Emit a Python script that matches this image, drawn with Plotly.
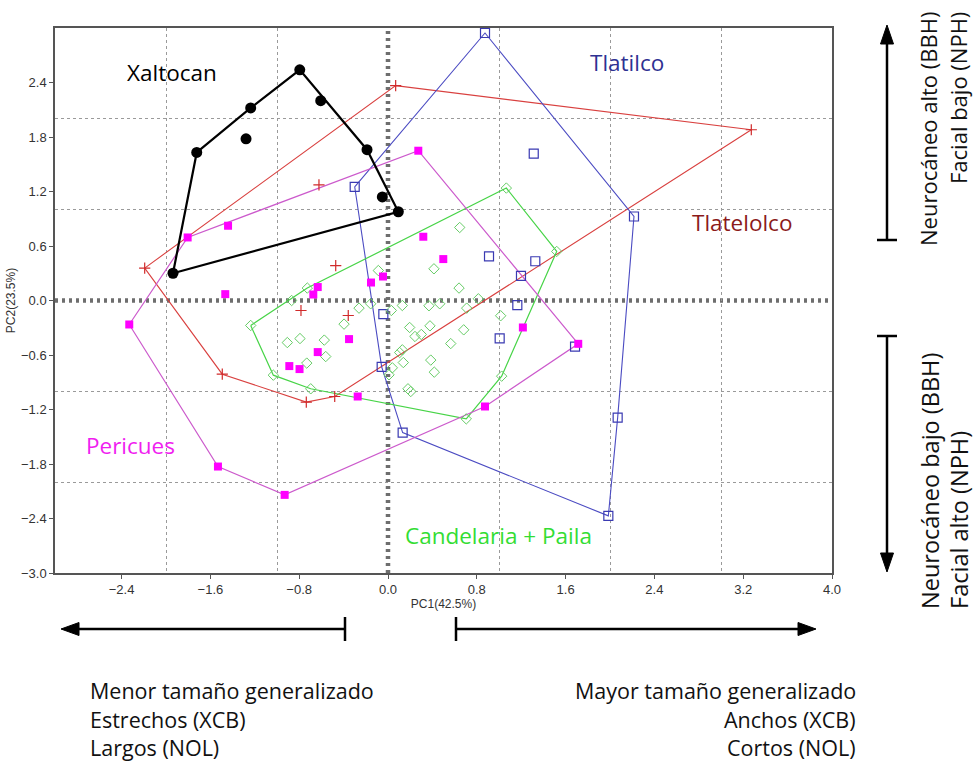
import plotly.graph_objects as go

# ---- PCA scores per population (PC1, PC2) ----
xaltocan_pc1 = [-0.795, -0.606, -1.237, -1.279, -1.723, -0.189, -0.051, 0.093, -1.937]
xaltocan_pc2 = [2.540, 2.200, 2.120, 1.780, 1.630, 1.660, 1.140, 0.977, 0.300]

tlatilco_pc1 = [0.874, 1.313, 2.216, 0.910, 1.327, 1.198, 1.165, -0.300, -0.042,
                1.006, -0.057, 1.685, 2.069, 1.985, 0.132]
tlatilco_pc2 = [2.945, 1.616, 0.925, 0.485, 0.432, 0.272, -0.051, 1.252, -0.150,
                -0.418, -0.730, -0.507, -1.289, -2.371, -1.454]

tlatelolco_pc1 = [0.069, -2.192, -0.622, -0.471, 3.273, -0.784, -0.358, -1.493, -0.736, -0.480]
tlatelolco_pc2 = [2.365, 0.357, 1.274, 0.385, 1.880, -0.110, -0.165, -0.811, -1.119, -1.057]

pericues_pc1 = [-1.805, -1.441, -1.466, -0.633, -0.673, -0.153, -0.045, 0.273, 0.318,
                0.498, -2.331, -1.532, -0.931, -0.351, -0.633, -0.889, -0.797, -0.273,
                1.215, 1.714, 0.874]
pericues_pc2 = [0.694, 0.823, 0.070, 0.148, 0.066, 0.198, 0.264, 1.649, 0.702,
                0.456, -0.264, -1.828, -2.140, -0.425, -0.568, -0.722, -0.755, -1.057,
                -0.297, -0.477, -1.167]

candelaria_pc1 = [-0.727, -0.868, -0.087, -0.261, -0.156, 1.066, 0.646, 0.414, 0.640,
                  0.814, 1.520, 0.129, 0.369, 0.466, -1.237, -0.907, -0.793, -0.574,
                  -0.396, -0.561, -0.732, -1.033, -0.696, 0.030, 0.709, 1.015, 0.195,
                  0.243, 0.300, 0.378, 0.682, 0.565, 0.129, 0.105, 0.138, 0.385, 0.417,
                  0.039, 0.009, 0.180, 0.205, 1.024, 0.705]
candelaria_pc2 = [0.137, 0.000, 0.330, -0.084, -0.036, 1.238, 0.804, 0.349, 0.137,
                  0.019, 0.540, -0.055, -0.058, -0.036, -0.275, -0.463, -0.419, -0.436,
                  -0.260, -0.617, -0.689, -0.822, -0.972, -0.110, -0.084, -0.168, -0.297,
                  -0.396, -0.374, -0.279, -0.323, -0.474, -0.543, -0.573, -0.683, -0.656, -0.789,
                  -0.741, -0.818, -0.972, -1.002, -0.833, -1.303]

# ---- axis ticks ----
x_ticks = [-2.4, -1.6, -0.8, 0.0, 0.8, 1.6, 2.4, 3.2, 4.0]
y_ticks = [-3.0, -2.4, -1.8, -1.2, -0.6, 0.0, 0.6, 1.2, 1.8, 2.4]
x_grid = [-2, -1, 1, 2, 3]
y_grid = [-2, -1, 1, 2]


def convex_hull(xs, ys):
    """Monotone-chain convex hull, returned as a closed ring."""
    pts = sorted(set(zip(xs, ys)))

    def cross(o, a, b):
        return (a[0] - o[0]) * (b[1] - o[1]) - (a[1] - o[1]) * (b[0] - o[0])

    lower, upper = [], []
    for p in pts:
        while len(lower) >= 2 and cross(lower[-2], lower[-1], p) <= 0:
            lower.pop()
        lower.append(p)
    for p in reversed(pts):
        while len(upper) >= 2 and cross(upper[-2], upper[-1], p) <= 0:
            upper.pop()
        upper.append(p)
    ring = lower[:-1] + upper[:-1]
    ring.append(ring[0])
    return [p[0] for p in ring], [p[1] for p in ring]


groups = [
    dict(name="Tlatelolco", x=tlatelolco_pc1, y=tlatelolco_pc2, line="#D9403F", lw=1.1,
         marker=dict(symbol="cross-thin", size=8, line=dict(color="#D02A2A", width=1.2))),
    dict(name="Tlatilco", x=tlatilco_pc1, y=tlatilco_pc2, line="#4B4BC2", lw=1.1,
         marker=dict(symbol="square-open", size=9, color="#3A3AB2", line=dict(width=1.2))),
    dict(name="Candelaria + Paila", x=candelaria_pc1, y=candelaria_pc2, line="#47D447", lw=1.2,
         marker=dict(symbol="diamond-open", size=8, color="#66CC66", line=dict(width=1))),
    dict(name="Pericues", x=pericues_pc1, y=pericues_pc2, line="#CC5ACC", lw=1.2,
         marker=dict(symbol="square", size=8, color="#FF00FF")),
    dict(name="Xaltocan", x=xaltocan_pc1, y=xaltocan_pc2, line="#000000", lw=2.2,
         marker=dict(symbol="circle", size=11, color="#000000")),
]

fig = go.Figure()
for g in groups:
    hx, hy = convex_hull(g["x"], g["y"])
    fig.add_trace(go.Scatter(x=hx, y=hy, mode="lines", hoverinfo="skip",
                             line=dict(color=g["line"], width=g["lw"]), showlegend=False))
for g in groups:
    fig.add_trace(go.Scatter(x=g["x"], y=g["y"], mode="markers", name=g["name"],
                             marker=g["marker"], showlegend=False))

# thick dotted reference lines through the origin
zero_style = dict(color="#6E6E6E", width=4.5, dash="3px,4px")
fig.add_shape(type="line", xref="x", yref="y", x0=0, x1=0, y0=-3, y1=3,
              line=zero_style, layer="below")
fig.add_shape(type="line", xref="x", yref="y", x0=-3, x1=4, y0=0, y1=0,
              line=zero_style, layer="below")

# group labels
label_font = "Open Sans, sans-serif"
group_labels = [
    ("Xaltocan", -1.946, 2.508, "#000000"),
    ("Tlatilco", 2.153, 2.618, "#2E3192"),
    ("Tlatelolco", 3.189, 0.859, "#8B1A1A"),
    ("Pericues", -2.324, -1.597, "#F01EF0"),
    ("Candelaria + Paila", 0.991, -2.588, "#33DD33"),
]
for text, lx, ly, col in group_labels:
    fig.add_annotation(x=lx, y=ly, xref="x", yref="y", text=text, showarrow=False,
                       font=dict(family=label_font, size=22.5, color=col))

# ---- outer arrows and captions (positioned in figure pixels) ----
W, H = 979, 763
L, R, T, B = 55, 147, 28, 190
PW, PH = W - L - R, H - T - B


def px(x):
    return (x - L) / PW


def py(y):
    return (H - B - y) / PH


arrow_line = dict(color="#000000", width=2.5)


def seg(x0, y0, x1, y1):
    fig.add_shape(type="line", xref="paper", yref="paper",
                  x0=px(x0), y0=py(y0), x1=px(x1), y1=py(y1), line=arrow_line)


def head(tip, b1, b2):
    path = "M {},{} L {},{} L {},{} Z".format(px(tip[0]), py(tip[1]), px(b1[0]), py(b1[1]),
                                              px(b2[0]), py(b2[1]))
    fig.add_shape(type="path", xref="paper", yref="paper", path=path,
                  fillcolor="#000000", line=dict(color="#000000", width=1))


# horizontal (PC1) arrows
seg(76, 629, 345, 629); seg(345, 617, 345, 641); head((61, 629), (79, 622.5), (79, 635.5))
seg(456, 629, 800, 629); seg(456, 617, 456, 641); head((816, 629), (798, 622.5), (798, 635.5))
# vertical (PC2) arrows
seg(887, 240, 887, 42); seg(877, 240, 897, 240); head((887, 25), (880.5, 44), (893.5, 44))
seg(887, 336, 887, 556); seg(877, 336, 897, 336); head((887, 572), (880.5, 553), (893.5, 553))

cap_font = dict(family=label_font, size=21.5, color="#111111")
for txt, yy in [("Menor tamaño generalizado", 690), ("Estrechos (XCB)", 719), ("Largos (NOL)", 747)]:
    fig.add_annotation(x=px(88), y=py(yy), xref="paper", yref="paper", text=txt, showarrow=False,
                       xanchor="left", yanchor="middle", font=cap_font)
for txt, yy in [("Mayor tamaño generalizado", 690), ("Anchos (XCB)", 719), ("Cortos (NOL)", 747)]:
    fig.add_annotation(x=px(858), y=py(yy), xref="paper", yref="paper", text=txt, showarrow=False,
                       xanchor="right", yanchor="middle", font=cap_font)

side_font = dict(family=label_font, size=22, color="#111111")
for txt, xx in [("Neurocáneo alto (BBH)", 928), ("Facial bajo (NPH)", 958)]:
    fig.add_annotation(x=px(xx), y=py(10), xref="paper", yref="paper", text=txt, showarrow=False,
                       textangle=-90, xanchor="center", yanchor="top", font=side_font)
low_font = dict(side_font, size=23.5)
for txt, xx in [("Neurocáneo bajo (BBH)", 930), ("Facial alto (NPH)", 959)]:
    fig.add_annotation(x=px(xx), y=py(611), xref="paper", yref="paper", text=txt, showarrow=False,
                       textangle=-90, xanchor="center", yanchor="bottom", font=low_font)

tick_font = dict(family="Liberation Sans, Arial, sans-serif", size=13, color="#333333")
title_font = dict(family="Liberation Sans, Arial, sans-serif", size=12, color="#333333")
frame = dict(showline=True, linecolor="#555555", linewidth=1.5, mirror=True,
             ticks="outside", ticklen=4, tickcolor="#555555", tickwidth=1,
             showgrid=False, zeroline=False, tickfont=tick_font, tickformat=".1f")

fig.update_layout(
    width=W, height=H,
    margin=dict(l=L, r=R, t=T, b=B, autoexpand=False),
    paper_bgcolor="white", plot_bgcolor="white",
    xaxis=dict(range=[-3, 4], tickmode="array", tickvals=x_ticks,
               title=dict(text="PC1(42.5%)", font=title_font, standoff=1),
               minor=dict(tickmode="array", tickvals=x_grid, showgrid=True, gridcolor="#9A9A9A",
                          griddash="dot", gridwidth=1, ticks=""),
               **frame),
    yaxis=dict(range=[-3, 3], tickmode="array", tickvals=y_ticks,
               title=dict(text="PC2(23.5%)", font=title_font, standoff=3),
               minor=dict(tickmode="array", tickvals=y_grid, showgrid=True, gridcolor="#9A9A9A",
                          griddash="dot", gridwidth=1, ticks=""),
               **frame),
)

fig.write_html("out.html")
